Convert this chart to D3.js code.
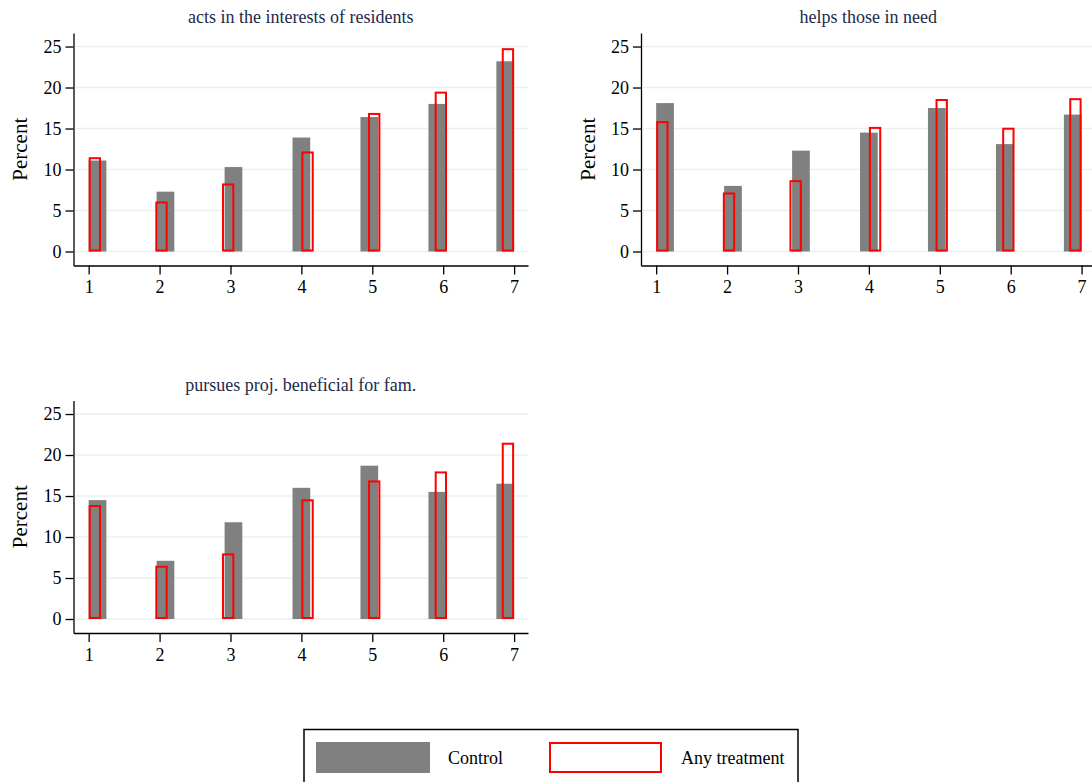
<!DOCTYPE html>
<html>
<head>
<meta charset="utf-8">
<script src="https://cdn.jsdelivr.net/npm/d3@7"></script>
<style>
  body { margin: 0; background: #fff; }
  svg { display: block; font-family: "Liberation Serif", "Times New Roman", serif; }
</style>
</head>
<body>
<svg width="1092" height="782"></svg>
<script>
const width = 1092;
const height = 782;

// data
const categories = [1, 2, 3, 4, 5, 6, 7];
const titles = ['acts in the interests of residents', 'helps those in need', 'pursues proj. beneficial for fam.'];
const controlActs = [11.1, 7.3, 10.3, 13.9, 16.4, 18.0, 23.2];
const treatActs = [11.5, 6.1, 8.3, 12.2, 16.9, 19.5, 24.8];
const controlHelps = [18.1, 8.0, 12.3, 14.5, 17.5, 13.1, 16.7];
const treatHelps = [15.9, 7.2, 8.7, 15.2, 18.6, 15.1, 18.7];
const controlProj = [14.5, 7.1, 11.8, 16.0, 18.7, 15.5, 16.5];
const treatProj = [13.9, 6.5, 8.0, 14.6, 16.9, 18.0, 21.5];
const yTicks = [0, 5, 10, 15, 20, 25];
// histogram bin left edges (x units) and bin widths
const controlBinLeft = [1.0, 1.958, 2.917, 3.875, 4.833, 5.792, 6.75];
const controlBinWidth = 0.25;
const treatBinLeft = [1.0, 1.94, 2.88, 4.0, 4.94, 5.88, 6.826];
const treatBinWidth = 0.174;

const panels = [
    { title: titles[0], control: controlActs, treat: treatActs, dx: 0, dy: 0 },
    { title: titles[1], control: controlHelps, treat: treatHelps, dx: 567.5, dy: 0 },
    { title: titles[2], control: controlProj, treat: treatProj, dx: 0, dy: 367.5 }
];

const gray = '#808080';
const red = '#ff0000';
const gridColor = '#e9f0f3';
const titleColor = '#1c2a4a';

// plot region of a single panel
const plotLeft = 73.5, plotRight = 528, plotTop = 33, plotBottom = 265.5;

const xScale = d3.scaleLinear()
                    .domain([0.786, 7.196])
                    .range([plotLeft, plotRight]);
const yScale = d3.scaleLinear()
                    .domain([-1.707, 26.65])
                    .range([plotBottom, plotTop]);

const svg = d3.select('svg')
                .attr('width', width)
                .attr('height', height);

panels.forEach(p => {
    const g = svg.append('g')
        .attr('transform', `translate(${p.dx}, ${p.dy})`);

    // gridlines
    g.append('g')
        .selectAll('line')
        .data(yTicks)
        .enter()
        .append('line')
            .attr('x1', plotLeft + 2)
            .attr('x2', plotRight)
            .attr('y1', d => yScale(d))
            .attr('y2', d => yScale(d))
            .attr('stroke', gridColor)
            .attr('stroke-width', 1.5);

    // control bars (filled gray)
    g.append('g')
        .selectAll('rect')
        .data(categories)
        .enter()
        .append('rect')
            .attr('x', (d, i) => xScale(controlBinLeft[i]))
            .attr('width', (d, i) => xScale(controlBinLeft[i] + controlBinWidth) - xScale(controlBinLeft[i]))
            .attr('y', (d, i) => yScale(p.control[i]))
            .attr('height', (d, i) => yScale(0) - yScale(p.control[i]))
            .attr('fill', gray);

    // treatment bars (red outline)
    g.append('g')
        .selectAll('rect')
        .data(categories)
        .enter()
        .append('rect')
            .attr('x', (d, i) => xScale(treatBinLeft[i]) + 1)
            .attr('width', (d, i) => xScale(treatBinLeft[i] + treatBinWidth) - xScale(treatBinLeft[i]) - 2)
            .attr('y', (d, i) => yScale(p.treat[i]) + 1)
            .attr('height', (d, i) => yScale(0) - yScale(p.treat[i]) - 2)
            .attr('fill', 'none')
            .attr('stroke', red)
            .attr('stroke-width', 2);

    const yAxis = d3.axisLeft(yScale)
                    .tickValues(yTicks)
                    .tickSize(8)
                    .tickPadding(4)
                    .tickSizeOuter(0);
    const xAxis = d3.axisBottom(xScale)
                    .tickValues(categories)
                    .tickFormat(d3.format('d'))
                    .tickSize(9)
                    .tickPadding(6)
                    .tickSizeOuter(0);

    const ya = g.append('g')
        .attr('transform', `translate(${plotLeft}, 0)`)
        .call(yAxis);
    const xa = g.append('g')
        .attr('transform', `translate(0, ${plotBottom})`)
        .call(xAxis);

    [ya, xa].forEach(a => {
        a.selectAll('path, line').attr('stroke', '#000').attr('stroke-width', 1.3);
        a.selectAll('text')
            .attr('fill', '#000')
            .style('font-family', '"Liberation Serif", serif')
            .style('font-size', '18px');
    });

    g.append('text')
        .attr('transform', 'rotate(-90)')
        .attr('x', -(plotTop + plotBottom) / 2)
        .attr('y', 27)
        .style('text-anchor', 'middle')
        .style('font-size', '21px')
        .text('Percent');

    g.append('text')
        .attr('x', (plotLeft + plotRight) / 2)
        .attr('y', 23)
        .style('text-anchor', 'middle')
        .style('font-size', '18px')
        .attr('fill', titleColor)
        .text(p.title);
});

// legend
const legend = svg.append('g');
legend.append('rect')
    .attr('x', 304)
    .attr('y', 729.5)
    .attr('width', 494)
    .attr('height', 70)
    .attr('fill', '#fff')
    .attr('stroke', '#000')
    .attr('stroke-width', 1.5);
legend.append('rect')
    .attr('x', 316)
    .attr('y', 742)
    .attr('width', 114)
    .attr('height', 31)
    .attr('fill', gray);
legend.append('rect')
    .attr('x', 550)
    .attr('y', 743)
    .attr('width', 111)
    .attr('height', 29)
    .attr('fill', 'none')
    .attr('stroke', red)
    .attr('stroke-width', 2);
legend.append('text')
    .attr('x', 448)
    .attr('y', 763.5)
    .style('font-size', '18px')
    .text('Control');
legend.append('text')
    .attr('x', 681)
    .attr('y', 763.5)
    .style('font-size', '18px')
    .text('Any treatment');
</script>
</body>
</html>
